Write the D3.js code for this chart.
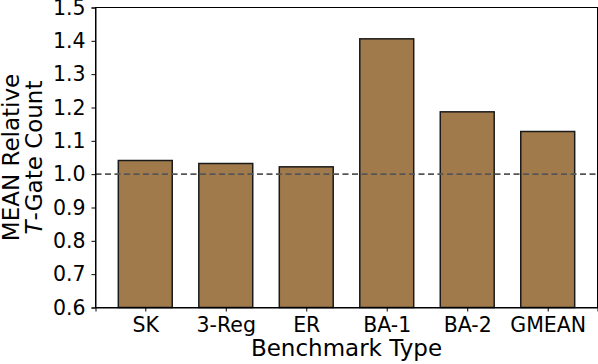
<!DOCTYPE html>
<html lang="en">
<head>
  <meta charset="UTF-8">
  <title>MEAN Relative T-Gate Count</title>
  <script src="https://d3js.org/d3.v7.min.js"></script>
  <style>
    body { margin: 0; background: #fff; }
    svg { display: block; font-family: "DejaVu Sans", sans-serif; }
  </style>
</head>
<body>
  <svg width="598" height="364"></svg>
  <script>
    // data
    const categories = ["SK", "3-Reg", "ER", "BA-1", "BA-2", "GMEAN"];
    const values = [1.041, 1.032, 1.022, 1.406, 1.187, 1.128];
    const yTicks = [0.6, 0.7, 0.8, 0.9, 1.0, 1.1, 1.2, 1.3, 1.4, 1.5];
    const baseline = 1.0;

    const svg = d3.select("svg"),
          margin = { top: 7.5, right: 0.5, bottom: 56.5, left: 95.5 },
          width = +svg.attr("width"),
          height = +svg.attr("height");

    const barW = 0.67;
    const n = categories.length;
    const pad = 0.05 * (n - 1 + barW);
    const tickFont = 20.5, labelFont = 23;

    // matplotlib-style linear x over category index
    const x = d3.scaleLinear()
      .domain([-barW / 2 - pad, n - 1 + barW / 2 + pad])
      .range([margin.left, width - margin.right]);

    const y = d3.scaleLinear()
      .domain([0.6, 1.5])
      .range([height - margin.bottom, margin.top]);

    // bars
    svg.append("g")
      .selectAll("rect")
      .data(values)
      .join("rect")
      .attr("x", (d, i) => x(i - barW / 2))
      .attr("width", (d, i) => x(i + barW / 2) - x(i - barW / 2))
      .attr("y", d => y(d))
      .attr("height", d => y(0.6) - y(d))
      .attr("fill", "#a17a4c")
      .attr("stroke", "#1a1a1a")
      .attr("stroke-width", 1.5);

    // dashed reference line
    svg.append("line")
      .attr("x1", margin.left)
      .attr("x2", width - margin.right)
      .attr("y1", y(baseline))
      .attr("y2", y(baseline))
      .attr("stroke", "#555")
      .attr("stroke-width", 1.6)
      .attr("stroke-dasharray", "6,3.5");

    // axes
    const xAxis = d3.axisBottom(x)
      .tickValues(d3.range(n))
      .tickFormat(i => categories[i])
      .tickSizeOuter(0)
      .tickSize(4)
      .tickPadding(6);

    const yAxis = d3.axisLeft(y)
      .tickValues(yTicks)
      .tickFormat(d3.format(".1f"))
      .tickSizeOuter(0)
      .tickSize(4)
      .tickPadding(6);

    const styleTicks = g => g.selectAll("text")
      .attr("font-size", tickFont)
      .attr("fill", "#000")
      .attr("font-family", "DejaVu Sans");

    svg.append("g")
      .attr("transform", `translate(0,${height - margin.bottom})`)
      .call(xAxis)
      .call(styleTicks);

    svg.append("g")
      .attr("transform", `translate(${margin.left},0)`)
      .call(yAxis)
      .call(styleTicks);

    // frame
    svg.append("rect")
      .attr("x", margin.left)
      .attr("y", margin.top)
      .attr("width", width - margin.left - margin.right)
      .attr("height", height - margin.top - margin.bottom)
      .attr("fill", "none")
      .attr("stroke", "#000")
      .attr("stroke-width", 1);

    // axis labels
    svg.append("text")
      .attr("x", (margin.left + width - margin.right) / 2)
      .attr("y", 356)
      .attr("text-anchor", "middle")
      .attr("font-size", labelFont)
      .text("Benchmark Type");

    const yl = svg.append("text")
      .attr("transform", `translate(0,${(margin.top + height - margin.bottom) / 2}) rotate(-90)`)
      .attr("text-anchor", "middle")
      .attr("font-size", labelFont);
    yl.append("tspan").attr("x", 0).attr("y", 19).text("MEAN Relative");
    const l2 = yl.append("tspan").attr("x", 0).attr("y", 42);
    l2.append("tspan").attr("font-style", "italic").text("T");
    l2.append("tspan").text("-Gate Count");
  </script>
</body>
</html>
